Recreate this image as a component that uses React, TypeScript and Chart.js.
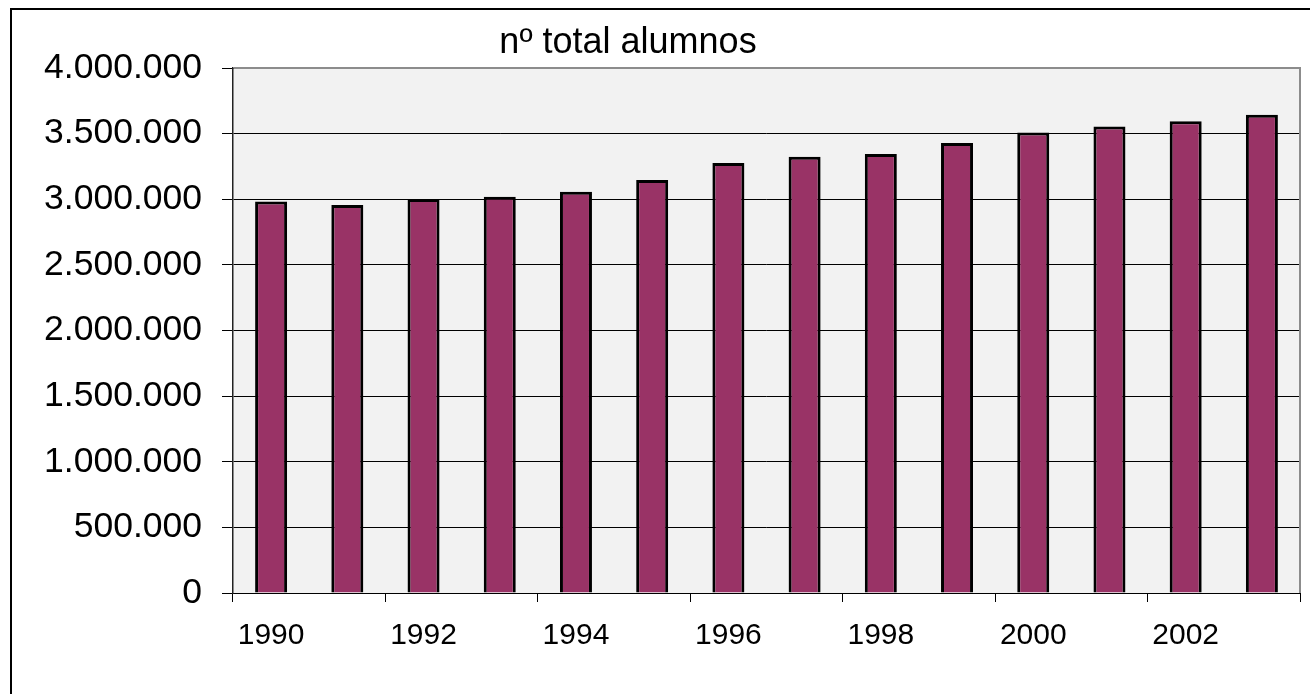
import React, { useEffect, useRef } from "react";
import { Chart, registerables } from "chart.js";

Chart.register(...registerables);

const categories = ["1990", "1991", "1992", "1993", "1994", "1995", "1996", "1997", "1998", "1999", "2000", "2001", "2002", "2003"];
const alumnos = [2982000, 2957000, 3002000, 3020000, 3058000, 3146000, 3277000, 3323000, 3345000, 3429000, 3508000, 3555000, 3595000, 3643000];
const titleText = "nº total alumnos";
const yMax = 4000000;
const yStep = 500000;

function fmt(v: number): string {
  return String(Math.round(v)).replace(/\B(?=(\d{3})+(?!\d))/g, ".");
}

const FONT = "'Liberation Sans', Arial, sans-serif";

export default function App() {
  const ref = useRef<HTMLCanvasElement | null>(null);
  useEffect(() => {
    if (!ref.current) return;
    const decor = {
      id: "decor",
      beforeDraw(chart: any) {
        const { ctx, chartArea } = chart;
        ctx.save();
        ctx.fillStyle = "#ffffff";
        ctx.fillRect(0, 0, chart.width, chart.height);
        ctx.fillStyle = "#f2f2f2";
        ctx.fillRect(chartArea.left, chartArea.top, chartArea.right - chartArea.left, chartArea.bottom - chartArea.top);
        ctx.strokeStyle = "#000";
        ctx.lineWidth = 2;
        ctx.strokeRect(11, 9, 1400, 800);
        ctx.restore();
      },
      afterDraw(chart: any) {
        const { ctx, chartArea } = chart;
        ctx.save();
        ctx.strokeStyle = "#8c8c8c";
        ctx.lineWidth = 2;
        ctx.beginPath();
        ctx.moveTo(chartArea.left + 1, chartArea.top);
        ctx.lineTo(chartArea.right, chartArea.top);
        ctx.lineTo(chartArea.right, chartArea.bottom);
        ctx.stroke();
        ctx.fillStyle = "#000";
        ctx.font = `36px ${FONT}`;
        ctx.textAlign = "center";
        ctx.textBaseline = "alphabetic";
        ctx.fillText(titleText, 628, 53);
        ctx.restore();
      },
    };
    const chart = new Chart(ref.current, {
      type: "bar",
      data: {
        labels: categories,
        datasets: [
          {
            label: titleText,
            data: alumnos,
            backgroundColor: "#993366",
            borderColor: "#000000",
            borderWidth: 3,
            barPercentage: 0.42,
            categoryPercentage: 1,
          },
        ],
      },
      options: {
        animation: false,
        responsive: false,
        devicePixelRatio: 1,
        layout: { padding: { top: 68, left: 0, right: 10, bottom: 0 } },
        plugins: { legend: { display: false }, title: { display: false }, tooltip: { enabled: false } },
        scales: {
          x: {
            type: "category",
            offset: true,
            afterFit(scale: any) {
              scale.height = 101;
            },
            grid: {
              offset: true,
              drawOnChartArea: false,
              drawTicks: true,
              tickLength: 9,
              color: (ctx: any) => (ctx.index === undefined || ctx.index % 2 === 0 ? "#000" : "rgba(0,0,0,0)"),
            },
            border: { display: true, color: "#000", width: 1 },
            ticks: {
              autoSkip: false,
              maxRotation: 0,
              minRotation: 0,
              padding: 16,
              color: "#000",
              font: { family: FONT, size: 30 },
              callback: (_v: any, i: number) => (i % 2 === 0 ? categories[i] : ""),
            },
          },
          y: {
            min: 0,
            max: yMax,
            afterFit(scale: any) {
              scale.width = 233;
            },
            grid: { color: "#000", lineWidth: 1, tickLength: 11, drawTicks: true },
            border: { display: true, color: "#222", width: 1.5 },
            ticks: {
              stepSize: yStep,
              padding: 20,
              color: "#000",
              font: { family: FONT, size: 35.5 },
              callback: (v: any) => fmt(Number(v)),
            },
          },
        },
      },
      plugins: [decor],
    });
    return () => chart.destroy();
  }, []);
  return (
    <div style={{ position: "fixed", left: 0, top: 0, width: 1310, height: 694, overflow: "hidden", background: "#fff" }}>
      <canvas ref={ref} width={1310} height={694} style={{ display: "block" }} />
    </div>
  );
}
